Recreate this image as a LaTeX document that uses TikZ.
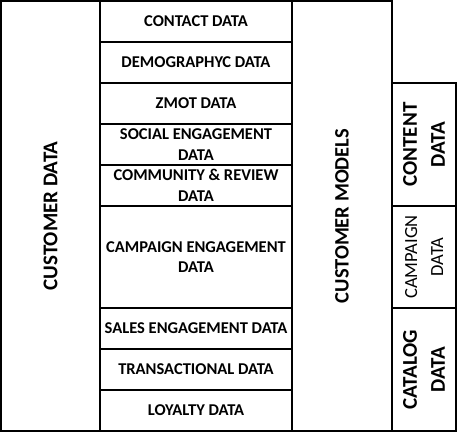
\documentclass[tikz,border=0pt]{standalone}
\usepackage{fontspec}
\setmainfont{Carlito}
\tikzset{
  box/.style={draw, line width=1.6pt, inner sep=0pt, align=center},
  rowtext/.style={font=\bfseries\fontsize{16.5}{20.5}\selectfont},
  bigtext/.style={font=\bfseries\fontsize{21}{28}\selectfont},
}
\begin{document}
\begin{tikzpicture}[x=1pt,y=-1pt]
				\useasboundingbox (0,0) rectangle (458,433);
				% Customer data
				\node[box, bigtext, rotate=90, minimum width=430pt, minimum height=99pt] (custdata) at (50.5,216) {CUSTOMER DATA};
				% Data rows
				\foreach \name/\top/\bot/\txt in {contact/1/42/CONTACT DATA, demo/42/83/DEMOGRAPHYC DATA, zmot/83/124/ZMOT DATA, social/124/165/SOCIAL ENGAGEMENT\\DATA, community/165/206/COMMUNITY \& REVIEW\\DATA, campaign/206/308/CAMPAIGN ENGAGEMENT\\DATA, sales/308/349/SALES ENGAGEMENT DATA, trans/349/390/TRANSACTIONAL DATA, loyalty/390/431/LOYALTY DATA}
				{\node[box, rowtext, minimum width=192pt, minimum height={(\bot-\top)*1pt}] (\name) at (196,{(\top+\bot)/2}) {\txt};}
				% Customer models
				\node[box, bigtext, font=\bfseries\fontsize{20.5}{28}\selectfont, rotate=90, minimum width=430pt, minimum height=100pt] (models) at (342,216) {CUSTOMER MODELS};
				% Content, campaign and catalog data
				\node[box, bigtext, rotate=90, minimum width=123pt, minimum height=64pt] (content) at (424,144.5) {CONTENT\\DATA};
				\node[box, font=\fontsize{18.5}{26}\selectfont, rotate=90, minimum width=102pt, minimum height=64pt] (campdata) at (424,257) {CAMPAIGN\\DATA};
				\node[box, bigtext, rotate=90, minimum width=123pt, minimum height=64pt] (catalog) at (424,369.5) {CATALOG\\DATA};
\end{tikzpicture}
\end{document}
